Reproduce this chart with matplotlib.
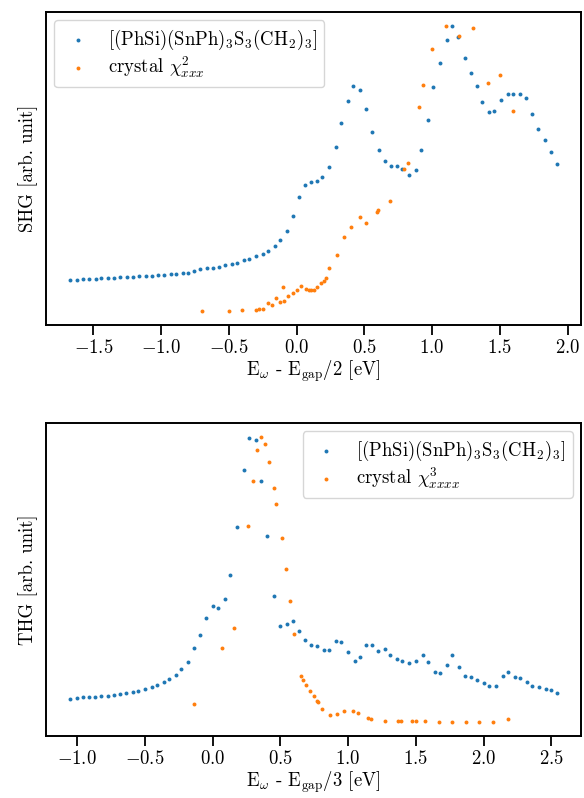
import matplotlib
matplotlib.use('Agg')
from matplotlib import pyplot as plt

plt.rcParams['font.family'] = 'serif'
plt.rcParams['font.serif'] = ['cmr10']
plt.rcParams['mathtext.fontset'] = 'cm'
plt.rcParams['axes.formatter.use_mathtext'] = True
plt.rcParams['font.size'] = 13.5

# SHG: molecule, photon energy minus half the gap
shg_mol_x = [-1.67, -1.62, -1.58, -1.53, -1.48, -1.44, -1.39, -1.35, -1.30, -1.25,
             -1.21, -1.16, -1.11, -1.07, -1.02, -0.98, -0.93, -0.89, -0.84, -0.80,
             -0.76, -0.71, -0.66, -0.62, -0.57, -0.53, -0.48, -0.44, -0.39, -0.35,
             -0.30, -0.25, -0.21, -0.16, -0.12, -0.07, -0.03, 0.02, 0.06, 0.11,
             0.15, 0.19, 0.24, 0.29, 0.33, 0.38, 0.42, 0.47, 0.51, 0.56,
             0.61, 0.65, 0.70, 0.74, 0.78, 0.83, 0.88, 0.92, 0.97, 1.01,
             1.06, 1.11, 1.15, 1.19, 1.24, 1.29, 1.33, 1.37, 1.42, 1.46,
             1.51, 1.56, 1.60, 1.65, 1.69, 1.74, 1.78, 1.83, 1.88, 1.92]
shg_mol_y = [44.3, 44.3, 44.7, 45, 45.3, 45.7, 46, 46.3, 46.7, 47,
             47.3, 47.7, 48, 48.3, 48.7, 49.3, 49.7, 50, 50.7, 51.3,
             52.5, 54.5, 55.5, 56, 57, 58.5, 59.5, 61.3, 64, 65.3,
             67.7, 69.7, 73.3, 77.7, 84, 93, 108.3, 127.3, 139.3, 142.3,
             143, 147.3, 157.5, 177.3, 201, 223, 238, 234.7, 215.7, 192.3,
             174.3, 163.3, 158.3, 158, 154.7, 149.3, 154, 174, 204.7, 237,
             261.7, 285, 298.3, 287.7, 266.3, 251.7, 238, 222.7, 212.7, 213,
             224, 230.7, 230.3, 230.7, 226.3, 210.7, 195.3, 184, 172.3, 160.3]

# SHG: crystal chi2_xxx
shg_cry_x = [-0.70, -0.50, -0.40, -0.30, -0.28, -0.25, -0.21, -0.18, -0.15, -0.12,
             -0.10, -0.09, -0.06, -0.03, 0.00, 0.03, 0.07, 0.09, 0.11, 0.13,
             0.15, 0.18, 0.20, 0.22, 0.24, 0.30, 0.35, 0.40, 0.47, 0.51,
             0.59, 0.60, 0.69, 0.79, 0.82, 0.90, 0.93, 1.00, 1.10, 1.20,
             1.30, 1.41, 1.50, 1.60]
shg_cry_y = [13, 13, 14, 14.3, 14.7, 15, 21, 18.7, 25.7, 21.7,
             37.3, 23, 27.7, 30.7, 34, 38.3, 35, 33.5, 33.5, 34.3,
             37, 40.7, 43.3, 45.7, 55.7, 69, 86.7, 96.7, 107.3, 101.5,
             111.7, 114.3, 123, 155, 161, 217.3, 239.7, 275.7, 298.3, 288.3,
             296.7, 241.3, 249, 213.7]

# THG: molecule, photon energy minus a third of the gap
thg_mol_x = [-1.05, -1.00, -0.96, -0.91, -0.87, -0.82, -0.77, -0.73, -0.68, -0.64,
             -0.59, -0.55, -0.50, -0.45, -0.41, -0.36, -0.32, -0.27, -0.23, -0.18,
             -0.14, -0.09, -0.05, 0.00, 0.04, 0.09, 0.13, 0.18, 0.23, 0.27,
             0.32, 0.36, 0.40, 0.45, 0.50, 0.55, 0.59, 0.64, 0.68, 0.73,
             0.77, 0.82, 0.86, 0.91, 0.95, 1.00, 1.05, 1.09, 1.13, 1.18,
             1.22, 1.27, 1.31, 1.36, 1.40, 1.45, 1.50, 1.55, 1.59, 1.64,
             1.68, 1.73, 1.77, 1.82, 1.86, 1.91, 1.95, 2.00, 2.04, 2.09,
             2.14, 2.18, 2.23, 2.27, 2.32, 2.36, 2.41, 2.46, 2.50, 2.54]
thg_mol_y = [40, 40.7, 41.3, 41.3, 41.7, 42.3, 43, 43.7, 44.7, 45.7,
             46.7, 48, 49.7, 51.3, 53.7, 56.3, 59.7, 64, 69.3, 77,
             90.3, 103.7, 120.7, 133, 130.3, 139.7, 164.3, 212.3, 269.3, 301.7,
             299, 258, 203, 143.3, 112.3, 115, 118, 108, 99, 94,
             92.3, 88.7, 89, 97.3, 96.7, 87, 77.3, 81.3, 93.7, 93.7,
             87.7, 89.3, 84, 79.7, 77.7, 75.3, 77.3, 83.3, 77, 66.3,
             65.3, 73.3, 84, 71.7, 62.3, 61.7, 59, 56, 52.7, 52.7,
             62.7, 66.7, 62, 60.7, 56.7, 52.3, 51.3, 50, 48.7, 45.7]

# THG: crystal chi3_xxxx
thg_cry_x = [-0.14, 0.07, 0.16, 0.26, 0.30, 0.33, 0.36, 0.39, 0.42, 0.45,
             0.47, 0.51, 0.54, 0.57, 0.60, 0.65, 0.67, 0.69, 0.72, 0.75,
             0.77, 0.78, 0.81, 0.87, 0.92, 0.97, 1.04, 1.07, 1.15, 1.17,
             1.27, 1.37, 1.39, 1.47, 1.50, 1.57, 1.67, 1.77, 1.87, 1.97,
             2.07, 2.18]
thg_cry_y = [35, 90.3, 110.7, 212.7, 257.7, 289.3, 302, 295.7, 276.7, 251.3,
             235, 200.7, 170, 138, 105, 62.3, 58.3, 53.3, 47.7, 42.3,
             38, 36.3, 29.7, 23.7, 24, 27, 28, 25.3, 20, 19.3,
             17.3, 17.7, 17.3, 17, 17, 17, 16.7, 16.7, 16.7, 16.7,
             16.7, 19.7]

mol_label = r'[(PhSi)(SnPh)$_3$S$_3$(CH$_2$)$_3$]'
leg_kw = dict(labelspacing=0.1, borderpad=0.4, handlelength=1.7,
              handletextpad=0.75, borderaxespad=0.45)

fig = plt.figure(figsize=(5.84, 7.98), dpi=100)
ax1 = fig.add_axes([0.0788, 0.5927, 0.9161, 0.3922])
ax2 = fig.add_axes([0.0788, 0.0777, 0.9161, 0.3922])

ax1.scatter(shg_mol_x, shg_mol_y, s=8, color='#1f77b4', linewidths=0, label=mol_label)
ax1.scatter(shg_cry_x, shg_cry_y, s=8, color='#ff7f0e', linewidths=0,
            label=r'crystal $\chi^2_{xxx}$')
ax1.set_xlabel(r'E$_\omega$ - E$_\mathrm{gap}$/2 [eV]', labelpad=1)
ax1.set_ylabel('SHG [arb. unit]', labelpad=6)
ax1.legend(loc='upper left', **leg_kw)

ax2.scatter(thg_mol_x, thg_mol_y, s=8, color='#1f77b4', linewidths=0, label=mol_label)
ax2.scatter(thg_cry_x, thg_cry_y, s=8, color='#ff7f0e', linewidths=0,
            label=r'crystal $\chi^3_{xxxx}$')
ax2.set_xlabel(r'E$_\omega$ - E$_\mathrm{gap}$/3 [eV]', labelpad=1)
ax2.set_ylabel('THG [arb. unit]', labelpad=6)
ax2.legend(loc='upper right', **leg_kw)

for ax in (ax1, ax2):
    ax.set_yticks([])
    ax.tick_params(axis='x', length=7, width=1.3, pad=3)
    for sp in ax.spines.values():
        sp.set_linewidth(1.4)

fig.savefig('out.png', dpi=100)
